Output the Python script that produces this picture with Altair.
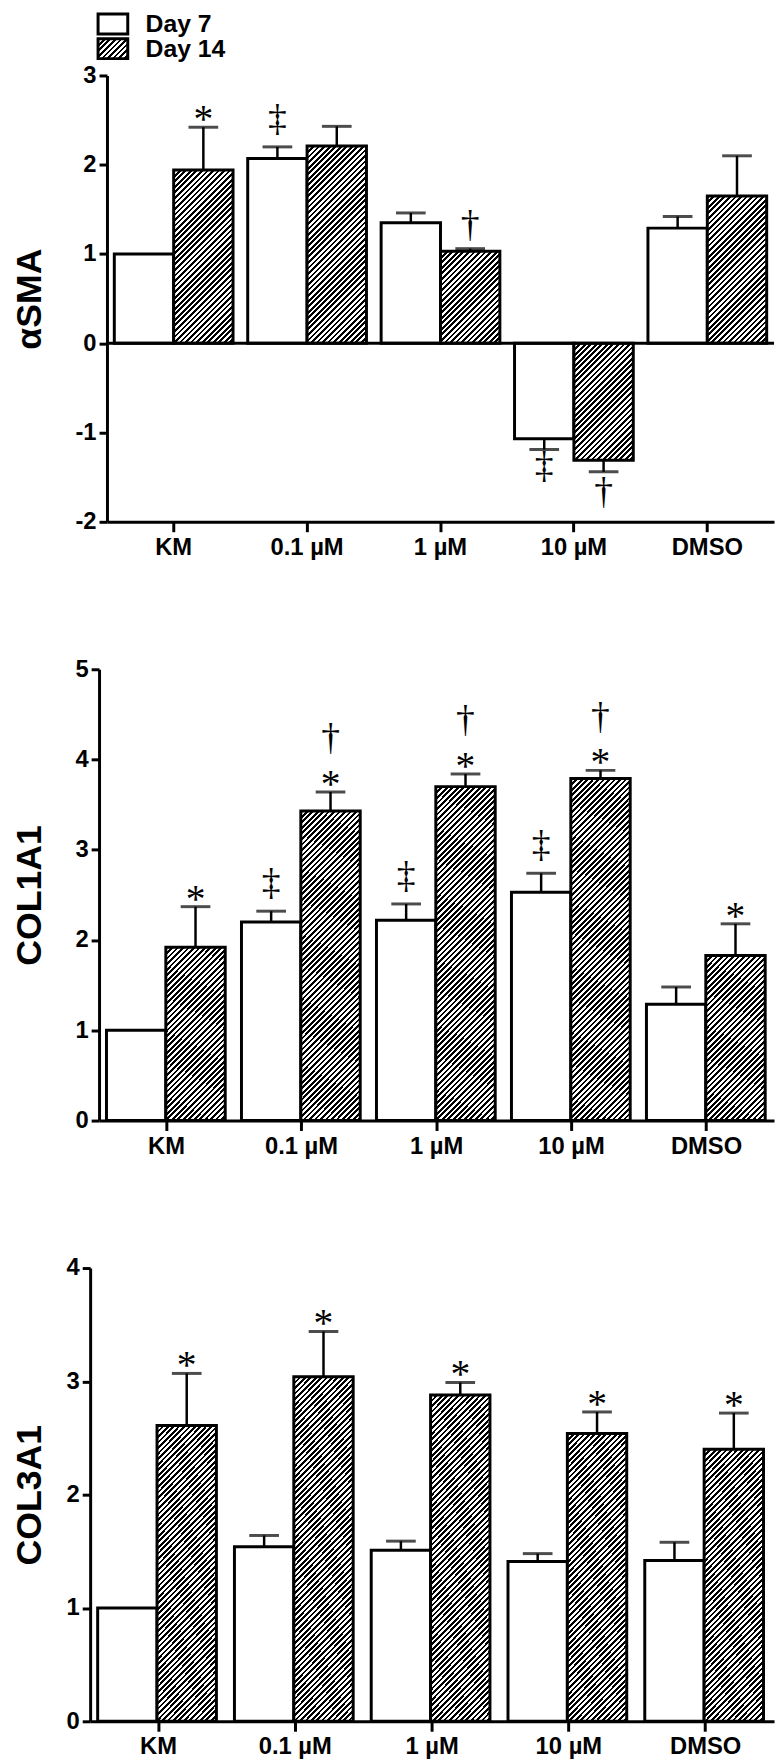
import altair as alt

# ---------------- data ----------------
categories = ["KM", "0.1 µM", "1 µM", "10 µM", "DMSO"]
days = ["Day 7", "Day 14"]

# alpha-SMA
sma_day7 = [1.00, 2.07, 1.35, -1.07, 1.29]
sma_day7_err = [0.0, 0.13, 0.11, 0.12, 0.13]
sma_day14 = [1.94, 2.21, 1.03, -1.31, 1.65]
sma_day14_err = [0.48, 0.22, 0.03, 0.13, 0.45]
sma_ann_cat = ["KM", "0.1 µM", "1 µM", "10 µM", "10 µM"]
sma_ann_day = ["Day 14", "Day 7", "Day 14", "Day 7", "Day 14"]
sma_ann_sym = ["*", "‡", "†", "‡", "†"]
sma_ann_pos = ["above", "above", "above", "below", "below"]

# COL1A1
c1_day7 = [1.00, 2.20, 2.22, 2.53, 1.29]
c1_day7_err = [0.0, 0.12, 0.18, 0.21, 0.19]
c1_day14 = [1.92, 3.43, 3.70, 3.79, 1.83]
c1_day14_err = [0.45, 0.21, 0.14, 0.09, 0.35]
c1_ann_cat = ["KM", "0.1 µM", "0.1 µM", "0.1 µM", "1 µM", "1 µM", "1 µM",
              "10 µM", "10 µM", "10 µM", "DMSO"]
c1_ann_day = ["Day 14", "Day 7", "Day 14", "Day 14", "Day 7", "Day 14", "Day 14",
              "Day 7", "Day 14", "Day 14", "Day 14"]
c1_ann_sym = ["*", "‡", "*", "†", "‡", "*", "†", "‡", "*", "†", "*"]
c1_ann_pos = ["above", "above", "above", "above2", "above", "above", "above2",
              "above", "above", "above2", "above"]

# COL3A1
c3_day7 = [1.00, 1.54, 1.51, 1.41, 1.42]
c3_day7_err = [0.0, 0.10, 0.08, 0.07, 0.16]
c3_day14 = [2.61, 3.04, 2.88, 2.54, 2.40]
c3_day14_err = [0.46, 0.40, 0.11, 0.19, 0.32]
c3_ann_cat = ["KM", "0.1 µM", "1 µM", "10 µM", "DMSO"]
c3_ann_day = ["Day 14"] * 5
c3_ann_sym = ["*"] * 5
c3_ann_pos = ["above"] * 5

# ---------------- style ----------------
SANS = "Liberation Sans"
SERIF = "Liberation Serif"
PANEL_W = 691
PAD_IN, PAD_OUT = 0.11, 0.055
ANN_STYLE = {
    ("*", "above"): (40, -7),
    ("†", "above"): (38, -23),
    ("‡", "above"): (38, -27),
    ("†", "above2"): (38, -53),
    ("‡", "below"): (38, 18),
    ("†", "below"): (38, 22),
}


def hatch(w, h, period=5.6, frac=0.5):
    """diagonal black/white stripes as a linear gradient in bbox units"""
    w = max(w, 1.0)
    h = max(h, 1.0)
    k = (w + h) / (w * w + h * h)
    n = (w + h) / period
    stops = []
    i = 0
    while i < n:
        a = round(min(i / n, 1), 5)
        b = round(min((i + frac) / n, 1), 5)
        c = round(min((i + 1) / n, 1), 5)
        stops += [{"offset": a, "color": "black"}, {"offset": b, "color": "black"},
                  {"offset": b, "color": "white"}, {"offset": c, "color": "white"}]
        i += 1
    return {"gradient": "linear", "x1": 0, "y1": 0,
            "x2": round(w * k, 5), "y2": round(h * k, 5), "stops": stops}


def make_panel(title, d7, e7, d14, e14, a_cat, a_day, a_sym, a_pos,
               domain, ticks, height, start, legend=False, zero_line=False):
    n = len(categories)
    step = (PANEL_W - start) / (n - PAD_IN + 2 * PAD_OUT)
    barw = step * (1 - PAD_IN) / 2
    ppu = height / (domain[1] - domain[0])

    recs = []
    lookup = {}
    for i, c in enumerate(categories):
        for day, vals, errs in ((days[0], d7, e7), (days[1], d14, e14)):
            v, e = vals[i], errs[i]
            sign = 1 if v >= 0 else -1
            fill = "white" if day == days[0] else hatch(barw, abs(v) * ppu)
            end = v + sign * e
            recs.append({"cat": c, "day": day, "value": v, "err": e,
                         "end": end, "fillv": fill})
            lookup[(c, day)] = end
    data = alt.Data(values=recs)

    ann = [{"cat": c, "day": d, "sym": s, "pos": p, "end": lookup[(c, d)]}
           for c, d, s, p in zip(a_cat, a_day, a_sym, a_pos)]

    xscale = alt.Scale(domain=categories, range=[start, PANEL_W],
                       paddingInner=PAD_IN, paddingOuter=PAD_OUT)
    xaxis = alt.Axis(title=None, labelFont=SANS, labelFontSize=24,
                     labelFontWeight="bold", labelAngle=0, tickSize=10,
                     labelPadding=4, bandPosition=0.5, domainWidth=3,
                     tickWidth=3)
    yscale = alt.Scale(domain=domain, nice=False, zero=True)
    yaxis = alt.Axis(title=title, values=ticks, labelExpr="'' + datum.value",
                     labelFont=SANS, labelFontSize=24, labelFontWeight="bold",
                     tickSize=8, labelPadding=3, domainWidth=3, tickWidth=3,
                     offset=-start, titleFont=SANS, titleFontSize=36,
                     titleFontWeight="bold", titleAngle=270,
                     titleBaseline="middle", titleAlign="center",
                     titleX=-61 - start, titleY=height / 2, grid=False)

    X = alt.X("cat:N", scale=xscale, axis=xaxis, sort=categories)
    XO = alt.XOffset("day:N", sort=days,
                     scale=alt.Scale(domain=days, paddingInner=0, paddingOuter=0))

    def Y(field):
        return alt.Y(field, scale=yscale, axis=yaxis, stack=None)

    layers = []
    layers.append(alt.Chart(data).mark_bar(stroke="black", strokeWidth=3).encode(
        x=X, xOffset=XO, y=Y("value:Q"), fill=alt.Fill("fillv:N", scale=None)))
    layers.append(alt.Chart(data).transform_filter(alt.datum.err > 0)
                  .mark_rule(color="black", strokeWidth=2.5)
                  .encode(x=X, xOffset=XO, y=Y("value:Q"), y2="end:Q"))
    layers.append(alt.Chart(data).transform_filter(alt.datum.err > 0)
                  .mark_tick(color="black", thickness=3, size=30)
                  .encode(x=X, xOffset=XO, y=Y("end:Q")))
    if zero_line:
        layers.append(alt.Chart(alt.Data(values=[{"z": 0}]))
                      .mark_rule(color="black", strokeWidth=3)
                      .encode(y=Y("z:Q"), x=alt.value(start), x2=alt.value(PANEL_W)))
    kinds = []
    for a in ann:
        key = (a["sym"], a["pos"])
        if key not in kinds:
            kinds.append(key)
    for sym, pos in kinds:
        fs, dy = ANN_STYLE[(sym, pos)]
        layers.append(
            alt.Chart(alt.Data(values=[a for a in ann if a["sym"] == sym and a["pos"] == pos]))
            .mark_text(font=SERIF, fontSize=fs, dy=dy, baseline="middle",
                       align="center", color="black")
            .encode(x=X, xOffset=XO, y=Y("end:Q"), text="sym:N"))
    if legend:
        lab_recs = [{"label": days[0]}, {"label": days[1]}]
        sw = [(days[0], "white", -62, -42), (days[1], hatch(30, 20), -37, -17)]
        for lab, fill, y1, y2 in sw:
            layers.append(alt.Chart(alt.Data(values=[r for r in lab_recs if r["label"] == lab]))
                          .mark_rect(fill=fill, stroke="black", strokeWidth=3)
                          .encode(x=alt.value(8), x2=alt.value(38),
                                  y=alt.value(y1), y2=alt.value(y2)))
            layers.append(alt.Chart(alt.Data(values=[r for r in lab_recs if r["label"] == lab]))
                          .mark_text(font=SANS, fontSize=25, fontWeight="bold",
                                     align="left", baseline="middle", color="black")
                          .encode(x=alt.value(56), y=alt.value((y1 + y2) / 2),
                                  text="label:N"))
        # invisible anchor that fixes the left edge of the whole figure
        layers.append(alt.Chart(alt.Data(values=[{"a": 0}]))
                      .mark_rect(opacity=0)
                      .encode(x=alt.value(-83), x2=alt.value(-82),
                              y=alt.value(0), y2=alt.value(1)))
    return alt.layer(*layers).properties(width=PANEL_W, height=height)


p1 = make_panel("αSMA", sma_day7, sma_day7_err, sma_day14, sma_day14_err,
                sma_ann_cat, sma_ann_day, sma_ann_sym, sma_ann_pos,
                [-2, 3], [-2, -1, 0, 1, 2, 3], 451, 17, legend=True, zero_line=True)
p2 = make_panel("COL1A1", c1_day7, c1_day7_err, c1_day14, c1_day14_err,
                c1_ann_cat, c1_ann_day, c1_ann_sym, c1_ann_pos,
                [0, 5], [0, 1, 2, 3, 4, 5], 456, 9)
p3 = make_panel("COL3A1", c3_day7, c3_day7_err, c3_day14, c3_day14_err,
                c3_ann_cat, c3_ann_day, c3_ann_sym, c3_ann_pos,
                [0, 4], [0, 1, 2, 3, 4], 458, 0)

chart = (alt.vconcat(p1, p2, p3, spacing=99)
         .properties(padding={"top": -5, "left": 0, "right": 0, "bottom": 0},
                     background="white")
         .configure_view(stroke=None)
         .configure_axis(domainColor="black", tickColor="black",
                         labelColor="black", titleColor="black", grid=False))

chart.save("out.html", embed_options={"renderer": "svg", "actions": False})
